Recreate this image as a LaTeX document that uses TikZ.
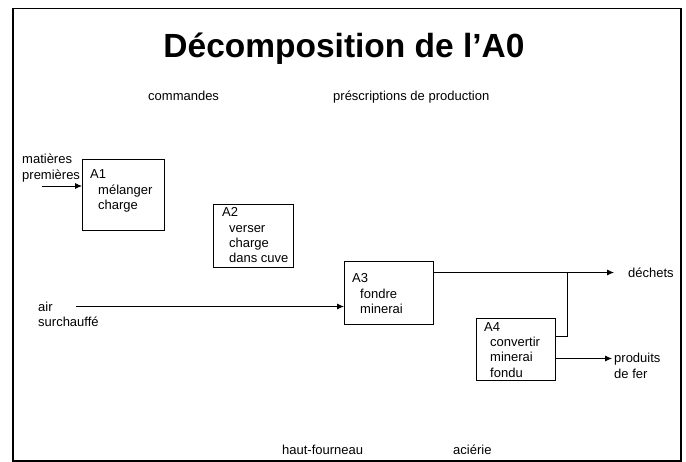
\documentclass[tikz,border=0pt]{standalone}
\usepackage{fontspec}
\setmainfont{Liberation Sans}
\usetikzlibrary{arrows.meta}
\tikzset{
  txt/.style={anchor=base west, inner sep=0pt, font=\fontsize{13}{15.2}\selectfont},
  actbox/.style={draw, line width=0.8pt, anchor=north west, inner sep=0pt},
  flow/.style={line width=0.8pt, -{Latex[length=7pt,width=6pt]}},
  plain/.style={line width=0.8pt},
}
\newcommand{\boxtext}[1]{\begin{tabular}[t]{@{}l@{}}#1\end{tabular}}
\begin{document}
\begin{tikzpicture}[x=1pt,y=-1pt]
\useasboundingbox (0,0) rectangle (686,462);
\draw[line width=1.7pt] (13.2,8.5) rectangle (681.2,460.8);
\node[anchor=base, inner sep=0pt, font=\fontsize{33.5}{40}\selectfont\bfseries] (title) at (344,58) {Décomposition de l’A0};
\node[txt] (cmd) at (148,101) {commandes};
\node[txt] (presc) at (333,101) {préscriptions de production};
\node[txt] (mat) at (22,164) {\boxtext{matières\\premières}};
\node[txt] (air) at (38,311.5) {\boxtext{air\\surchauffé}};
\node[txt] (hf) at (282,455) {haut-fourneau};
\node[txt] (ac) at (453,455) {aciérie};
% boxes
\node[actbox, minimum width=82pt, minimum height=71pt] (a1) at (82,159) {};
\node[actbox, minimum width=80pt, minimum height=63pt] (a2) at (213,204) {};
\node[actbox, minimum width=89pt, minimum height=63pt] (a3) at (344,261) {};
\node[actbox, minimum width=79pt, minimum height=62pt] (a4) at (476,318) {};
\node[txt] (t1) at (90,179) {\boxtext{A1\\\hspace*{8pt}mélanger\\\hspace*{8pt}charge}};
\node[txt] (t2) at (222,217) {\boxtext{A2\\\hspace*{7pt}verser\\\hspace*{7pt}charge\\\hspace*{7pt}dans cuve}};
\node[txt] (t3) at (352,283) {\boxtext{A3\\\hspace*{8pt}fondre\\\hspace*{8pt}minerai}};
\node[txt] (t4) at (484,331.5) {\boxtext{A4\\\hspace*{6pt}convertir\\\hspace*{6pt}minerai\\\hspace*{6pt}fondu}};
% connectors
\coordinate (matin) at (42,186);
\draw[flow] (matin) -- (matin -| a1.west);
\coordinate (airin) at (76,306.5);
\draw[flow] (airin) -- (airin -| a3.west);
\coordinate (a3out) at (433,272.5);
\coordinate (dech) at (614,272.5);
\draw[flow] (a3out) -- (dech);
\coordinate (a4up) at (555,336);
\coordinate (junc) at (567,272.5);
\draw[plain] (a4up) -- (a4up -| junc) -- (junc);
\coordinate (a4out) at (555,358.5);
\coordinate (prod) at (612,358.5);
\draw[flow] (a4out) -- (prod);
\node[txt] (dechets) at (628,277.5) {déchets};
\node[txt] (produits) at (614,363) {\boxtext{produits\\de fer}};
\end{tikzpicture}
\end{document}
